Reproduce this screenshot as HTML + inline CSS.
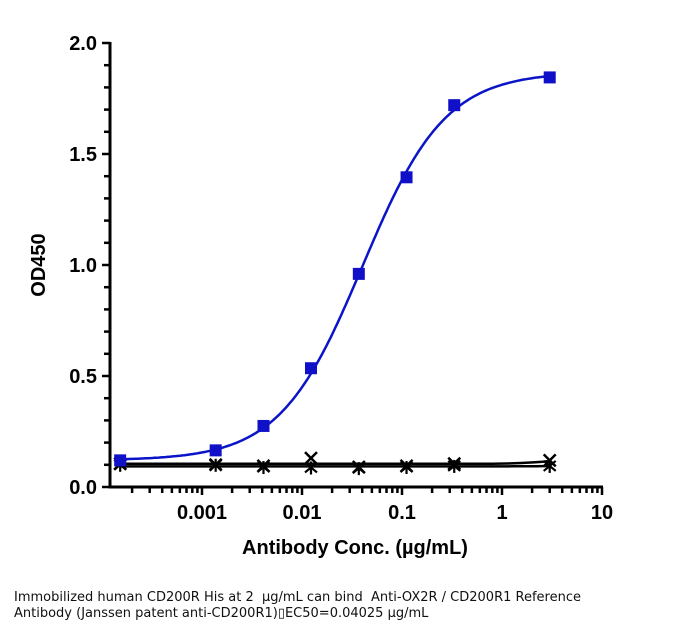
<!DOCTYPE html>
<html><head><meta charset="utf-8">
<style>
body{margin:0;background:#fff;width:682px;height:633px;overflow:hidden}
.cap{position:absolute;left:14px;top:590px;font-family:"DejaVu Sans","Liberation Sans",sans-serif;font-size:13px;line-height:16px;color:#111;white-space:nowrap}
</style></head>
<body>
<svg id="chart" width="682" height="633" style="position:absolute;left:0;top:0"></svg>
<div class="cap">Immobilized human CD200R His at 2&nbsp; μg/mL can bind&nbsp; Anti-OX2R / CD200R1 Reference<br>Antibody (Janssen patent anti-CD200R1)&#9647;EC50=0.04025 μg/mL</div>
<script>
const conc = [0.000152, 0.00137, 0.00412, 0.0123, 0.037, 0.111, 0.333, 3];
const blueOD = [0.12, 0.165, 0.275, 0.535, 0.96, 1.395, 1.72, 1.845];
const xSeriesOD = [0.105, 0.10, 0.095, 0.13, 0.09, 0.095, 0.105, 0.12];
const starSeriesOD = [0.10, 0.10, 0.09, 0.088, 0.085, 0.09, 0.095, 0.095];
const yTicks = [0, 0.5, 1.0, 1.5, 2.0];
const yTickLabels = ["0.0", "0.5", "1.0", "1.5", "2.0"];
const xTicks = [0.001, 0.01, 0.1, 1, 10];
const xTickLabels = ["0.001", "0.01", "0.1", "1", "10"];
const fitParams = [0.12, 1.87, 0.04025, 1.05]; // bottom, top, EC50, hill

const NS = "http://www.w3.org/2000/svg";
const FONT = '"Liberation Sans", Arial, sans-serif';
const svg = document.getElementById('chart');
function X(v){ return 202 + (Math.log10(v) + 3) * 100; }
function Y(v){ return 487 - v * 222; }
function el(tag, attrs, parent){ const e = document.createElementNS(NS, tag); for (const k in attrs) e.setAttribute(k, attrs[k]); (parent||svg).appendChild(e); return e; }

const axY = el('line', {x1:110, y1:42, x2:110, y2:488.5, stroke:'#000', 'stroke-width':3});


const axX = el('line', {x1:108.5, y1:487, x2:603, y2:487, stroke:'#000', 'stroke-width':3});



for (let k = 0; k <= 20; k++) {
  const v = k / 10;
  const major = k % 5 === 0;
  el('line', {x1:110 - (major?8:6), y1:Y(v), x2:110, y2:Y(v), stroke:'#000', 'stroke-width':2.5});
}
yTicks.forEach((v,i)=>{
  const t = el('text', {x:97, y:Y(v)+7, 'text-anchor':'end', 'font-size':20, 'font-weight':'bold', 'font-family':FONT});
  t.textContent = yTickLabels[i];
  
  
});
for (let d = -4; d <= 0; d++) {
  for (let m = 1; m <= 9; m++) {
    const v = m * Math.pow(10, d);
    const px = X(v);
    if (px < 111 || px > 603) continue;
    el('line', {x1:px, y1:487, x2:px, y2:487 + (m===1?8:6), stroke:'#000', 'stroke-width':2.5});
  }
}
el('line', {x1:X(10), y1:487, x2:X(10), y2:495, stroke:'#000', 'stroke-width':2.5});
xTicks.forEach((v,i)=>{
  const t = el('text', {x:X(v), y:519, 'text-anchor':'middle', 'font-size':20, 'font-weight':'bold', 'font-family':FONT});
  t.textContent = xTickLabels[i];
  
  
});
const xt = el('text', {x:355, y:554, 'text-anchor':'middle', 'font-size':20, 'font-weight':'bold', 'font-family':FONT});
xt.textContent = 'Antibody Conc. (µg/mL)';


const yt = el('text', {x:0, y:0, 'text-anchor':'middle', 'font-size':20, 'font-weight':'bold', 'font-family':FONT, transform:'translate(45,265) rotate(-90)'});
yt.textContent = 'OD450';



function meanOf(arr){ return arr.reduce((a,b)=>a+b,0)/arr.length; }
function lineThrough(arr, name){
  let d = '';
  const x0 = conc[0], x1 = conc[conc.length-1];
  const m = meanOf(arr);
  for (let i=0;i<=60;i++){
    const lv = Math.log10(x0) + (Math.log10(x1)-Math.log10(x0))*i/60;
    const v = Math.pow(10, lv);
    let val = m;
    if (i > 52) val += (arr[arr.length-1]-m) * Math.pow((i-52)/8, 2) * 0.8;
    d += (i?'L':'M') + X(v).toFixed(1) + ',' + Y(val).toFixed(1);
  }
  const p = el('path', {d, fill:'none', stroke:'#000', 'stroke-width':2.5});
  
  
}
lineThrough(xSeriesOD, 'x-series-fit-line');
lineThrough(starSeriesOD, 'asterisk-series-fit-line');

starSeriesOD.forEach((v,i)=>{
  const g = el('g', {transform:`translate(${X(conc[i])},${Y(v)})`, stroke:'#000', 'stroke-width':2.2});
  
  
  el('line',{x1:-6,y1:-5,x2:6,y2:5},g); el('line',{x1:-6,y1:5,x2:6,y2:-5},g); el('line',{x1:0,y1:-6,x2:0,y2:7},g);
});
xSeriesOD.forEach((v,i)=>{
  const g = el('g', {transform:`translate(${X(conc[i])},${Y(v)})`, stroke:'#000', 'stroke-width':2.5});
  
  
  el('line',{x1:-6,y1:-6,x2:6,y2:6},g); el('line',{x1:-6,y1:6,x2:6,y2:-6},g);
});

let cd = '';
const fBot = fitParams[0], fTop = fitParams[1], fEc = fitParams[2], fHill = fitParams[3];
for (let i=0;i<=200;i++){
  const lv = Math.log10(conc[0]) + (Math.log10(conc[conc.length-1]) - Math.log10(conc[0]))*i/200;
  const v = Math.pow(10, lv);
  const val = fBot + (fTop-fBot)/(1+Math.pow(fEc/v, fHill));
  cd += (i?'L':'M') + X(v).toFixed(1) + ',' + Y(val).toFixed(1);
}
const bc = el('path', {d:cd, fill:'none', stroke:'#0a14c8', 'stroke-width':2.5});


blueOD.forEach((v,i)=>{
  const r = el('rect', {x:X(conc[i])-6, y:Y(v)-6, width:12, height:12, fill:'#1010c8'});
  
  
});
</script>
</body></html>
